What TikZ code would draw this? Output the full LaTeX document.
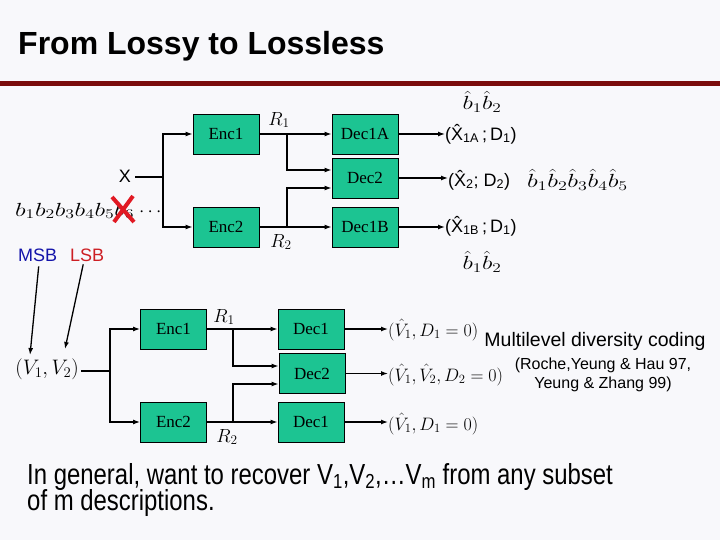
\RequirePackage{fix-cm}
\documentclass[tikz,border=0pt]{standalone}
\usepackage[no-math]{fontspec}
\usetikzlibrary{arrows.meta,calc}
\newfontfamily\arialf{Liberation Sans}
\newfontfamily\tnrf{Liberation Serif}
\definecolor{boxfill}{RGB}{28,196,146}
\definecolor{bgc}{RGB}{248,248,251}
\definecolor{barred}{RGB}{122,12,12}
\definecolor{msbblue}{RGB}{20,20,170}
\definecolor{lsbred}{RGB}{205,30,35}
\definecolor{crossred}{RGB}{225,25,35}
\tikzset{
  blk/.style={draw=black, line width=0.9pt, fill=boxfill, minimum width=66pt, minimum height=40pt, inner sep=0pt, font=\tnrf\fontsize{17}{19}\selectfont},
  wire/.style={line width=1.3pt},
  arr/.style={line width=1.3pt, -{Latex[length=7pt,width=5pt]}},
  mth/.style={inner sep=0pt, font=\fontsize{19}{21}\selectfont},
  outl/.style={inner sep=0pt, font=\arialf\fontsize{18}{20}\selectfont},
}
\begin{document}
\begin{tikzpicture}[x=1pt,y=-1pt]
\fill[bgc] (0,0) rectangle (720,540);
\useasboundingbox (0,0) rectangle (720,540);
% title
\node[anchor=base west, inner sep=0pt, font=\arialf\bfseries\fontsize{32}{36}\selectfont] (title) at (18,55) {From Lossy to Lossless};
\fill[barred] (0,81) rectangle (720,86);
% ===== top diagram =====
\node[blk] (enc1) at (226,134) {Enc1};
\node[blk] (enc2) at (226,227) {Enc2};
\node[blk] (dec1a) at (365,134) {Dec1A};
\node[blk] (dec2) at (365,178) {Dec2};
\node[blk] (dec1b) at (365,227) {Dec1B};
\node[inner sep=0pt, anchor=east, font=\arialf\fontsize{18}{20}\selectfont] (xl) at (131,176) {X};
\coordinate (s1) at (163,177);
\draw[wire] (xl.east) ++(4,1) -- (s1);
\draw[arr] (s1) |- (enc1.west);
\draw[arr] (s1) |- (enc2.west);
\node[mth, anchor=base west] (bits) at (15,216) {\scalebox{1.33}[1]{$b_1b_2b_3b_4b_5b_6$}};
\node[mth, anchor=base west] (dots) at (139,216) {$\cdots$};
\draw[crossred, line width=4pt] (112,197) -- (134,222);
\draw[crossred, line width=4pt] (133,196) -- (114,222);
\node[mth] (r1) at (279,120) {$R_1$};
\node[mth] (r2) at (281,242) {$R_2$};
\coordinate (t1) at (287,134);
\coordinate (t2) at (287,227);
\draw[arr] (enc1) -- (dec1a);
\draw[arr] (enc2) -- (dec1b);
\draw[arr] (t1) |- ([yshift=8pt]dec2.west);
\draw[arr] (t2) |- ([yshift=-10pt]dec2.west);
% top outputs
\node[outl, anchor=west] (o1) at (445,134) {(\^X\textsubscript{1A}\,;\,D\textsubscript{1})};
\node[outl, anchor=west] (o2) at (448,180) {(\^X\textsubscript{2}; D\textsubscript{2})};
\node[outl, anchor=west] (o3) at (445,226) {(\^X\textsubscript{1B}\,;\,D\textsubscript{1})};
\draw[arr] (dec1a) -- (o1.west);
\draw[arr] (dec2) -- (dec2.east -| o2.west);
\draw[arr] (dec1b) -- (dec1b.east -| o3.west);
\node[mth] (h1) at (482,102) {\scalebox{1.3}[1]{$\hat b_1\hat b_2$}};
\node[mth, anchor=west] (h2) at (527,180) {\scalebox{1.35}[1]{$\hat b_1\hat b_2\hat b_3\hat b_4\hat b_5$}};
\node[mth] (h3) at (482,262) {\scalebox{1.3}[1]{$\hat b_1\hat b_2$}};
% MSB / LSB
\node[inner sep=0pt, anchor=base west, text=msbblue, font=\arialf\fontsize{18}{20}\selectfont] (msb) at (18,261) {MSB};
\node[inner sep=0pt, anchor=base west, text=lsbred, font=\arialf\fontsize{18}{20}\selectfont] (lsb) at (70,261) {LSB};
% ===== bottom diagram =====
\node[blk] (benc1) at (173.5,329) {Enc1};
\node[blk] (benc2) at (173.5,422) {Enc2};
\node[blk] (bdec1) at (311,329) {Dec1};
\node[blk] (bdec2) at (312,373.5) {Dec2};
\node[blk] (bdec3) at (311,422) {Dec1};
\node[mth, font=\fontsize{21}{23}\selectfont, anchor=east] (vv) at (79,369) {$(V_1,V_2)$};
\coordinate (s2) at (110,371);
\draw[wire] (vv.east) ++(2,2) -- (s2);
\draw[arr] (s2) |- (benc1.west);
\draw[arr] (s2) |- (benc2.west);
\node[mth] (br1) at (224,317) {$R_1$};
\node[mth] (br2) at (227,437) {$R_2$};
\coordinate (u1) at (233,329);
\coordinate (u2) at (233,422);
\draw[arr] (benc1) -- (bdec1);
\draw[arr] (benc2) -- (bdec3);
\draw[arr] (u1) |- ([yshift=7.5pt]bdec2.west);
\draw[arr] (u2) |- ([yshift=-10.5pt]bdec2.west);
\node[mth, font=\fontsize{18}{20}\selectfont, anchor=west] (p1) at (388,330) {$(\hat V_1, D_1=0)$};
\node[mth, font=\fontsize{18}{20}\selectfont, anchor=west] (p2) at (388,375) {$(\hat V_1, \hat V_2, D_2=0)$};
\node[mth, font=\fontsize{18}{20}\selectfont, anchor=west] (p3) at (388,424) {$(\hat V_1, D_1=0)$};
\draw[arr] (bdec1) -- (bdec1.east -| p1.west);
\draw[arr] (bdec2) -- (bdec2.east -| p2.west);
\draw[arr] (bdec3) -- (bdec3.east -| p3.west);
% MSB/LSB arrows
\coordinate (m1) at (30,355);
\coordinate (l1) at (65,349);
\draw[arr] (msb.south) ++(1,5) -- (m1);
\draw[arr] (lsb.south) ++(-4,3) -- (l1);
% right texts
\node[inner sep=0pt, font=\arialf\fontsize{19.5}{22}\selectfont] (mdc) at (595,341) {Multilevel diversity coding};
\node[inner sep=0pt, align=center, font=\arialf\fontsize{16}{19}\selectfont] (cite) at (603,375) {(Roche,Yeung \& Hau 97,\\Yeung \& Zhang 99)};
% bottom text
\node[inner sep=0pt, anchor=base west, align=left, font=\arialf\fontsize{29}{27}\selectfont] (gen) at (27,484) {\scalebox{0.825}[1]{In general, want to recover V\textsubscript{1},V\textsubscript{2},\dots V\textsubscript{m} from any subset}};
\node[inner sep=0pt, anchor=base west, font=\arialf\fontsize{29}{27}\selectfont] (gen2) at (27,510) {\scalebox{0.825}[1]{of m descriptions.}};
\end{tikzpicture}
\end{document}
